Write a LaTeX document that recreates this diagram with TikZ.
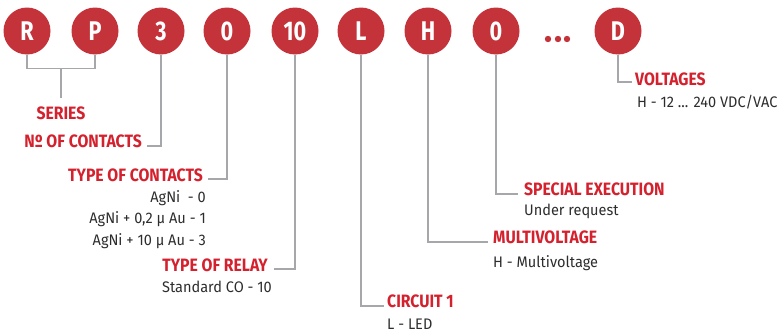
\documentclass[tikz,border=0pt]{standalone}
\usepackage{fontspec}
\setmainfont{Fira Sans}[FakeStretch=0.8]
\newfontfamily\ttlfont{Fira Sans}[FakeStretch=0.88]
\newfontfamily\txtfont{Fira Sans}[FakeStretch=0.95]
\usetikzlibrary{positioning}
\definecolor{relred}{RGB}{196,50,58}
\definecolor{txtred}{RGB}{212,33,46}
\definecolor{leadgray}{RGB}{165,167,170}
\definecolor{txtgray}{RGB}{45,45,45}
\tikzset{
  dig/.style={circle, fill=relred, minimum size=47pt, inner sep=0pt,
    text=white, font=\fontsize{27}{27}\selectfont\bfseries},
  ttl/.style={text=txtred, inner sep=0pt, font=\ttlfont\fontsize{17.9}{17.9}\selectfont\bfseries},
  txt/.style={text=txtgray, inner sep=0pt, font=\txtfont\fontsize{15.3}{21.5}\selectfont},
  lead/.style={draw=leadgray, line width=1.1pt}
}
\begin{document}
\begin{tikzpicture}[x=1pt, y=-1pt]
  \useasboundingbox (0,0) rectangle (782,332);
  % code digits
  \node[dig] (cR) at (27,31) {R};
  \node[dig] (cP) at (95,31) {P};
  \node[dig] (c3) at (161,31) {3};
  \node[dig] (c0) at (227,31) {0};
  \node[dig] (c10) at (295,31) {10};
  \node[dig] (cL) at (361,31) {L};
  \node[dig] (cH) at (428,31) {H};
  \node[dig] (cO) at (496,31) {0};
  \node[dig] (cD) at (618,31) {D};
  % dots
  \foreach \dx in {548,558,567}
    \fill[relred] (\dx,39) circle (3.2pt);
  % series
  \node[ttl, anchor=base] (ser) at (61,119) {SERIES};
  \draw[lead] (cR.south) -- ++(0,14) -| coordinate[pos=0.25] (sm) (cP.south);
  \draw[lead] (sm) -- ([yshift=8pt]sm |- ser.north);
  % number of contacts
  \node[ttl, anchor=base east] (nc) at (142,147) {Nº OF CONTACTS};
  \draw[lead] (c3.south) |- ([xshift=5pt,yshift=1pt]nc.base east);
  % type of contacts
  \node[ttl, anchor=base east] (tc) at (203,181) {TYPE OF CONTACTS};
  \node[txt, anchor=base east, align=right] (tcv) at (206,245)
    {AgNi~~- 0\\AgNi + 0,2 µ Au - 1\\AgNi + 10 µ Au - 3};
  \draw[lead] (c0.south) |- ([xshift=5pt,yshift=2pt]tc.base east);
  % type of relay
  \node[ttl, anchor=base east] (tr) at (268,271) {TYPE OF RELAY};
  \node[txt, anchor=base east] (trv) at (272,292) {Standard CO - 10};
  \draw[lead] (c10.south) |- ([xshift=6pt,yshift=2pt]tr.base east);
  % circuit 1
  \node[ttl, anchor=base west] (cir) at (387,307) {CIRCUIT 1};
  \node[txt, anchor=base west] (cirv) at (387,329) {L - LED};
  \draw[lead] (cL.south) |- ([xshift=-3pt,yshift=1pt]cir.base west);
  % multivoltage
  \node[ttl, anchor=base west] (mv) at (493,243) {MULTIVOLTAGE};
  \node[txt, anchor=base west] (mvv) at (493,267) {H - Multivoltage};
  \draw[lead] (cH.south) |- ([xshift=-5pt,yshift=1pt]mv.base west);
  % special execution
  \node[ttl, anchor=base west] (se) at (524,195) {SPECIAL EXECUTION};
  \node[txt, anchor=base west] (sev) at (524,215) {Under request};
  \draw[lead] (cO.south) |- ([xshift=-6pt,yshift=1pt]se.base west);
  % voltages
  \node[ttl, anchor=base west] (vo) at (635,85) {VOLTAGES};
  \node[txt, anchor=base west] (vov) at (637,107) {H - 12 ... 240 VDC/VAC};
  \draw[lead] (cD.south) |- ([xshift=-3pt,yshift=3pt]vo.base west);
\end{tikzpicture}
\end{document}
